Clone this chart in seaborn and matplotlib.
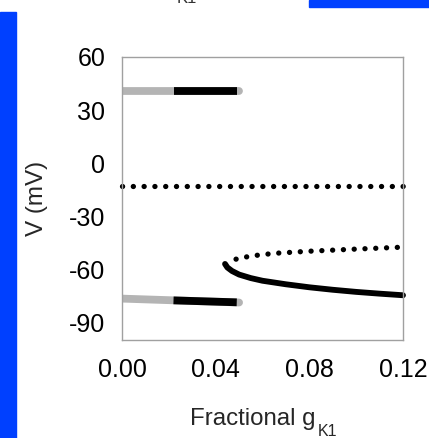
import numpy as np
import pandas as pd
import matplotlib
matplotlib.use("Agg")
import matplotlib.pyplot as plt
from matplotlib.patches import Rectangle
import seaborn as sns

# ---- data ----
# upper (depolarized) stable branch
up_g_grey = [0.0, 0.050]
up_v_grey = [41.0, 41.0]
up_g_black = [0.022, 0.049]
up_v_black = [41.0, 41.0]
# lower (resting) stable branch
lo_g_grey = [0.0, 0.050]
lo_v_grey = [-76.6, -78.8]
lo_g_black = [0.022, 0.049]
lo_v_black = [-77.6, -78.7]
# middle unstable branch (dotted)
mid_g = [0.0, 0.12]
mid_v = [-13.0, -13.0]
# lower unstable branch (dotted)
uns_g = [0.0487, 0.055, 0.065, 0.080, 0.100, 0.120]
uns_v = [-54.3, -52.5, -51.0, -49.8, -48.6, -47.5]
# new stable resting branch (solid)
st_g = [0.0440, 0.0450, 0.0470, 0.0500, 0.0550, 0.0600, 0.0700, 0.0800, 0.0900, 0.1000, 0.1100, 0.1200]
st_v = [-57.0, -59.0, -61.0, -63.0, -65.0, -66.5, -68.5, -70.2, -71.6, -72.8, -73.8, -74.7]

xticks = [0.00, 0.04, 0.08, 0.12]
xticklabels = ["0.00", "0.04", "0.08", "0.12"]
yticks = [60, 30, 0, -30, -60, -90]

sns.set_style("white")
plt.rcParams["font.family"] = ["Liberation Sans", "DejaVu Sans"]
plt.rcParams["axes.unicode_minus"] = False

W, H = 429, 438
fig = plt.figure(figsize=(W / 100, H / 100), dpi=100)
ax = fig.add_axes([122 / W, 1 - 340 / H, (403 - 122) / W, (340 - 57) / H])

GREY = "#b4b4b4"
LW_THICK = 5.6

def line(g, v, **kw):
    df = pd.DataFrame({"g": g, "v": v})
    sns.lineplot(data=df, x="g", y="v", ax=ax, estimator=None, sort=False,
                 legend=False, **kw)

# thick branches
for g, v in [(up_g_grey, up_v_grey), (lo_g_grey, lo_v_grey)]:
    line(g, v, color=GREY, linewidth=LW_THICK, solid_capstyle="round")
for g, v in [(up_g_black, up_v_black), (lo_g_black, lo_v_black)]:
    line(g, v, color="black", linewidth=LW_THICK, solid_capstyle="butt")

# dotted unstable branches (dot ~5 px, spacing ~10.8 px)
DOT_LW = 3.8
SPACING_PT = 7.77
for g, v in [(mid_g, mid_v), (uns_g, uns_v)]:
    line(g, v, color="black", linewidth=DOT_LW, clip_on=False,
         linestyle=(0, (0.02, SPACING_PT / DOT_LW - 0.02)),
         dash_capstyle="round")

# solid stable branch
line(st_g, st_v, color="black", linewidth=4.2, solid_capstyle="round",
     clip_on=False)

ax.set_xlim(0, 0.12)
ax.set_ylim(-100, 60)
ax.set_xticks(xticks)
ax.set_xticklabels(xticklabels)
ax.set_yticks(yticks)

for s in ax.spines.values():
    s.set_color("#a0a0a0")
    s.set_linewidth(1.0)

ax.tick_params(axis="both", which="major", direction="out", length=3,
               width=1.0, color="#a0a0a0", labelsize=18, labelcolor="black")
ax.tick_params(axis="x", pad=10)
ax.tick_params(axis="y", pad=9)

ax.set_xlabel("")
ax.set_ylabel("V (mV)", fontsize=17.5, labelpad=15)
# x-axis label with lowered subscript, as in the reference
fig.text(190 / W, 1 - 425 / H, "Fractional g", fontsize=17.3, ha="left",
         va="baseline")
fig.text(318 / W, 1 - 436 / H, "K1", fontsize=11.5, ha="left", va="baseline")

# page decorations from the reference crop
fig.patches.append(Rectangle((0, 0), 15.7 / W, (H - 12) / H,
                             transform=fig.transFigure, color="#0040ff", zorder=0))
fig.patches.append(Rectangle((309 / W, 1 - 7 / H), (W - 309) / W, 7 / H,
                             transform=fig.transFigure, color="#0040ff", zorder=0))
fig.text(177 / W, 1 - 3 / H, "K1", fontsize=12, ha="left", va="baseline",
         color="#333333")

fig.savefig("out.png", dpi=100)
